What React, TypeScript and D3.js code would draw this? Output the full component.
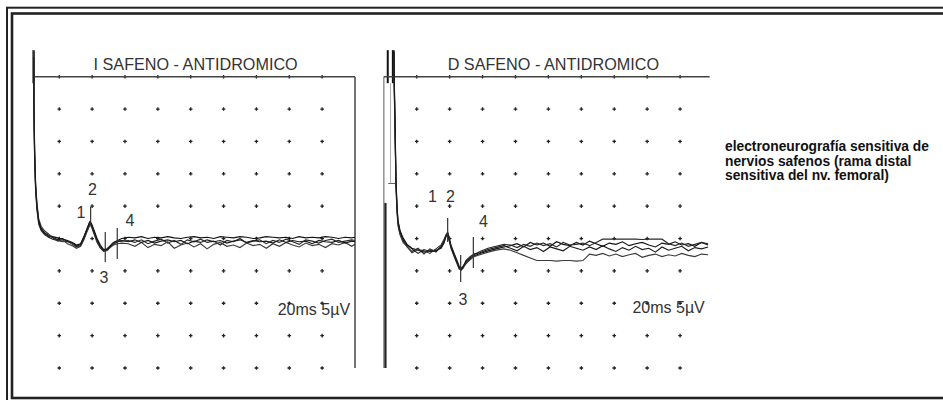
import React from "react";
import * as d3 from "d3";

// ---- panel izquierdo: I SAFENO ----
// tiempos (ms) comunes a los 4 barridos
const leftTimes = [
  0.45, 0.46, 0.5, 0.56, 0.64, 0.75, 0.9, 1.1, 1.35, 1.6, 1.9, 2.2, 2.5, 2.8, 3.05, 3.3, 3.5, 3.7, 3.85, 3.95,
  4.1, 4.3, 4.5, 4.7, 4.9, 5.1, 5.3, 5.55, 5.8,
  6.2, 6.6, 7.0, 7.4, 7.8, 8.2, 8.6, 9.0, 9.4, 9.8, 10.2, 10.6, 11.0, 11.4, 11.8, 12.2, 12.6, 13.0, 13.4, 13.8,
  14.2, 14.6, 15.0, 15.4, 15.8, 16.2, 16.6, 17.0, 17.4, 17.8, 18.2, 18.6, 19.0, 19.4, 19.8, 20.0,
];
// amplitudes (µV)
const leftSweep1 = [
  29, 20, 13, 8, 5, 2.5, 1.6, 0.9, 0.5, 0.3, 0.1, -0.1, -0.3, -0.6, -1.0, -0.8, 0.3, 1.6, 2.6, 2.4,
  1.4, 0.0, -1.0, -1.7, -1.6, -1.1, -0.6, -0.3, 0.0,
  0.2, 0.1, 0.3, 0.0, 0.2, 0.1, 0.3, 0.1, 0.0, 0.2, 0.3, 0.1, 0.2, 0.0, 0.3, 0.2, 0.1, 0.3, 0.2, 0.0,
  0.1, 0.3, 0.2, 0.1, 0.2, 0.0, 0.3, 0.1, 0.2, 0.1, 0.3, 0.2, 0.0, 0.2, 0.1, 0.2,
];
const leftSweep2 = [
  29, 19, 12, 7.4, 4.4, 2.2, 1.2, 0.6, 0.2, -0.1, -0.3, -0.5, -0.4, -0.9, -1.3, -1.1, 0.0, 1.3, 2.2, 2.1,
  1.0, -0.4, -1.4, -1.9, -1.8, -1.3, -0.9, -0.5, -0.4,
  -0.3, -0.6, -0.2, -0.8, -0.4, -0.1, -0.7, -0.3, -0.9, -0.2, -0.5, -0.1, -0.6, -0.4, -1.0, -0.3, -0.5, 0.0, -0.7, -0.4,
  -0.2, -0.8, -0.3, -0.6, -0.1, -0.5, -0.9, -0.2, -0.4, -0.7, -0.3, -0.1, -0.6, -0.4, -0.2, -0.3,
];
const leftSweep3 = [
  28.5, 21, 14, 8.6, 5.5, 3.0, 1.9, 1.2, 0.7, 0.1, -0.4, -0.2, -0.8, -1.1, -1.5, -1.2, -0.2, 1.1, 2.0, 1.9,
  0.8, -0.6, -1.5, -2.0, -1.9, -1.4, -1.0, -0.8, -0.7,
  -0.8, -1.2, -0.6, -1.4, -0.9, -1.1, -0.5, -1.5, -1.0, -0.7, -1.3, -0.8, -1.6, -0.9, -0.6, -1.2, -1.0, -1.4, -0.7, -1.1,
  -0.9, -1.5, -0.8, -1.2, -0.6, -1.0, -1.3, -0.7, -1.1, -0.9, -1.4, -0.8, -1.0, -0.6, -1.2, -0.9,
];
const leftSweep4 = [
  28, 20, 13.5, 8.2, 5.0, 2.8, 1.4, 0.8, 0.3, 0.2, -0.2, 0.0, -0.5, -0.7, -1.2, -0.9, 0.2, 1.5, 2.4, 2.2,
  1.2, -0.2, -1.2, -1.8, -1.7, -1.2, -0.7, -0.4, -0.3,
  -0.5, -0.2, -0.6, -0.3, -0.7, -0.4, -0.2, -0.5, -0.3, -0.8, -0.4, -0.6, -0.2, -0.5, -0.3, -0.7, -0.4, -0.2, -0.6, -0.3,
  -0.5, -0.4, -0.7, -0.2, -0.6, -0.3, -0.5, -0.4, -0.8, -0.3, -0.5, -0.6, -0.3, -0.7, -0.4, -0.5,
];
// marcadores: tiempo, extremo superior e inferior (µV)
const leftMarkers = [
  { t: 3.91, top: 4.87, bottom: 2.09 },
  { t: 4.8, top: 1.0, bottom: -3.63 },
  { t: 5.53, top: 1.62, bottom: -3.17 },
];
const leftLabels = [
  { text: "1", t: 3.32, v: 3.17 },
  { text: "2", t: 4.02, v: 6.72 },
  { text: "3", t: 4.72, v: -6.87 },
  { text: "4", t: 6.31, v: 1.93 },
];

// ---- panel derecho: D SAFENO ----
const rightTimes = [
  0.62, 0.64, 0.68, 0.74, 0.8, 0.86, 0.98, 1.17, 1.41, 1.71, 2.08, 2.44, 2.8, 3.17, 3.48, 3.66, 3.78, 3.88, 3.96, 4.08,
  4.26, 4.45, 4.57, 4.69, 4.81, 4.99, 5.24, 5.48, 5.84, 6.33, 6.82, 7.3,
  7.7, 8.1, 8.5, 8.9, 9.3, 9.7, 10.1, 10.5, 10.9, 11.3, 11.7, 12.1, 12.5, 12.9, 13.3, 13.7, 14.1, 14.5, 14.9, 15.3,
  15.7, 16.1, 16.5, 16.9, 17.3, 17.7, 18.1, 18.5, 18.9, 19.3, 19.7,
];
const rightSweep1 = [
  29.1, 24, 18.3, 9.0, 5.2, 2.8, 1.3, 0.1, -0.9, -1.5, -1.8, -2.1, -1.9, -1.8, -1.5, -0.7, 0.4, 0.8, 0.1, -1.2,
  -2.4, -3.6, -4.4, -4.6, -4.3, -3.6, -3.0, -2.7, -2.3, -1.9, -1.6, -1.3,
  -1.1, -0.8, -1.3, -0.6, -1.0, -0.7, -1.2, -0.5, -0.9, -1.1, -0.6, -1.0, -0.4, -0.8, -1.2, -0.7, -0.9, -0.5, -1.1, -0.8,
  -0.6, -1.0, -1.3, -0.7, -0.9, -0.5, -1.0, -0.8, -1.2, -0.6, -1.0,
];
const rightSweep2 = [
  29.0, 23, 17.5, 8.4, 4.6, 2.4, 0.9, -0.3, -1.3, -2.0, -1.5, -2.4, -1.6, -2.1, -1.2, -0.4, 0.6, 1.0, 0.3, -1.0,
  -2.2, -3.4, -4.2, -4.7, -4.4, -3.9, -3.2, -2.5, -2.0, -1.5, -1.2, -0.9,
  -1.0, -1.4, -0.9, -1.2, -0.7, -1.1, -0.8, -1.3, -0.6, -1.0, -0.9, -0.7, -1.1, -0.6, -0.1, -0.1, -0.1, -0.1, -0.1, -0.1,
  -0.15, -0.1, -0.1, -0.1, -0.8, -1.1, -0.7, -1.2, -0.9, -0.6, -0.8,
];
const rightSweep3 = [
  28.5, 22, 16.8, 8.0, 4.2, 2.0, 0.6, -0.6, -1.2, -2.2, -1.7, -1.9, -2.3, -1.6, -1.0, -0.1, 0.5, 0.6, -0.2, -1.5,
  -2.7, -3.9, -4.7, -4.9, -4.6, -3.8, -3.3, -2.8, -2.5, -2.1, -1.8, -1.6,
  -1.8, -2.2, -2.6, -3.0, -3.4, -3.4, -3.4, -3.5, -3.4, -3.4, -3.5, -3.4, -2.4, -2.6, -2.3, -2.7, -2.4, -2.8, -2.5, -2.3,
  -2.9, -2.6, -2.4, -2.8, -2.5, -2.7, -2.3, -2.6, -2.8, -2.4, -2.5,
];
const rightSweep4 = [
  28.8, 23.5, 17.9, 8.8, 5.0, 2.6, 1.1, -0.2, -1.0, -1.6, -2.3, -1.7, -2.0, -1.9, -1.3, -0.5, 0.3, 0.7, 0.0, -1.3,
  -2.5, -3.7, -4.5, -4.8, -4.5, -3.4, -2.8, -2.4, -2.2, -1.7, -1.4, -1.1,
  -1.5, -1.9, -1.2, -1.7, -1.4, -2.0, -1.3, -1.6, -1.9, -1.2, -1.5, -1.8, -1.3, -1.7, -1.1, -1.6, -2.0, -1.4, -1.8, -1.2,
  -1.7, -1.5, -2.1, -1.3, -1.8, -1.5, -1.2, -1.9, -1.4, -1.6, -1.3,
];
const rightMarkers = [
  { t: 3.88, top: 3.17, bottom: -0.54 },
  { t: 4.67, top: -2.55, bottom: -6.72 },
  { t: 5.44, top: 0.23, bottom: -4.56 },
];
const rightLabels = [
  { text: "1", t: 2.96, v: 5.64 },
  { text: "2", t: 4.05, v: 5.64 },
  { text: "3", t: 4.81, v: -10.27 },
  { text: "4", t: 6.06, v: 1.78 },
];

// rejilla: 2 ms/div, 5 µV/div
const gridTimes = [2, 4, 6, 8, 10, 12, 14, 16, 18];
const gridLevels = [25, 20, 15, 10, 5, 0, -5, -10, -15, -20];

const noteLines = [
  "electroneurografía sensitiva de",
  "nervios safenos (rama distal",
  "sensitiva del nv. femoral)",
];

const sweepColors = ["#111", "#2a2a2a", "#3a3a3a", "#1a1a1a"];
const textFont = "'Liberation Sans', Arial, sans-serif";

const y = d3.scaleLinear().domain([25, -20]).range([76.7, 368]);

type Marker = { t: number; top: number; bottom: number };
type Label = { text: string; t: number; v: number };

interface PanelProps {
  title: string;
  x: d3.ScaleLinear<number, number>;
  times: number[];
  sweeps: number[][];
  markers: Marker[];
  labels: Label[];
  scaleAt: { t: number; v: number };
  topStart: number;
  topEnd: number;
  rightBorder: boolean;
}

const Panel: React.FC<PanelProps> = ({ title, x, times, sweeps, markers, labels, scaleAt, topStart, topEnd, rightBorder }) => {
  const line = d3.line<[number, number]>()
    .x(d => x(d[0]))
    .y(d => y(d[1]));

  return (
    <g>
      {/* titulo */}
      <text x={x(10.3)} y={y(26.0)} textAnchor="middle" fill="#333"
        style={{ fontFamily: textFont, fontSize: "16.2px" }}>{title}</text>

      {/* puntos de la rejilla */}
      {gridTimes.map(t => gridLevels.map(v => (
        <path key={`${t}_${v}`}
          d={`M${x(t) - 1.8},${y(v)}h3.6M${x(t)},${y(v) - 1.8}v3.6`}
          stroke="#222" strokeWidth={1.3} />
      )))}

      {/* bordes */}
      <line x1={x(topStart)} x2={x(topEnd)} y1={y(25)} y2={y(25)} stroke="#444" strokeWidth={1.5} />
      {rightBorder && (
        <line x1={x(20)} x2={x(20)} y1={y(25)} y2={y(-20)} stroke="#444" strokeWidth={1.5} />
      )}

      {/* barridos */}
      {sweeps.map((s, i) => (
        <path key={i}
          d={line(times.map((t, j) => [t, s[j]] as [number, number]).filter(d => d[1] !== undefined)) ?? ""}
          fill="none" stroke={sweepColors[i]} strokeWidth={1.15} strokeLinejoin="miter" />
      ))}

      {/* marcadores */}
      {markers.map((m, i) => (
        <line key={i} x1={x(m.t)} x2={x(m.t)} y1={y(m.top)} y2={y(m.bottom)} stroke="#333" strokeWidth={1.2} />
      ))}
      {labels.map((l, i) => (
        <text key={i} x={x(l.t)} y={y(l.v)} textAnchor="middle" fill="#333"
          style={{ fontFamily: textFont, fontSize: "16px" }}>{l.text}</text>
      ))}

      {/* escala */}
      <text x={x(scaleAt.t)} y={y(scaleAt.v)} textAnchor="end" fill="#333"
        style={{ fontFamily: textFont, fontSize: "16px" }}>20ms 5µV</text>
    </g>
  );
};

export default function App() {
  const width = 943;
  const height = 400;

  const xLeft = d3.scaleLinear().domain([0, 20]).range([26.4, 355]);
  const xRight = d3.scaleLinear().domain([0, 20]).range([383.8, 713]);

  return (
    <svg width={width} height={height}
      style={{ position: "absolute", left: 0, top: 0, display: "block", background: "#fff" }}>
      <rect x={0} y={0} width={width} height={height} fill="#fff" />

      {/* marco doble */}
      <rect x={7} y={7.7} width={980} height={440} fill="none" stroke="#222" strokeWidth={2} />
      <rect x={12} y={13.5} width={970} height={384.5} fill="none" stroke="#222" strokeWidth={2.6} />

      {/* artefacto de estimulo, panel izquierdo */}
      <line x1={xLeft(0.43)} x2={xLeft(0.43)} y1={y(29.1)} y2={y(24)} stroke="#555" strokeWidth={2.5} />

      <Panel title="I SAFENO - ANTIDROMICO" x={xLeft} times={leftTimes}
        sweeps={[leftSweep1, leftSweep2, leftSweep3, leftSweep4]}
        markers={leftMarkers} labels={leftLabels}
        scaleAt={{ t: 19.7, v: -11.82 }} topStart={0.52} topEnd={20} rightBorder={true} />

      {/* artefacto de estimulo, panel derecho */}
      <line x1={xRight(0)} x2={xRight(0)} y1={y(25)} y2={y(-20)} stroke="#999" strokeWidth={1.6} />
      <line x1={xRight(0.1)} x2={xRight(0.1)} y1={y(5.5)} y2={y(-20)} stroke="#222" strokeWidth={2.2} />
      <line x1={xRight(0.41)} x2={xRight(0.41)} y1={y(24)} y2={y(8.5)} stroke="#aaa" strokeWidth={1} />
      <line x1={xRight(0.27)} x2={xRight(0.68)} y1={y(8.5)} y2={y(8.5)} stroke="#666" strokeWidth={1} />
      <line x1={xRight(0.24)} x2={xRight(0.24)} y1={y(29.1)} y2={y(24)} stroke="#111" strokeWidth={2} />
      <line x1={xRight(0.55)} x2={xRight(0.55)} y1={y(29.1)} y2={y(24)} stroke="#111" strokeWidth={2} />

      <Panel title="D SAFENO - ANTIDROMICO" x={xRight} times={rightTimes}
        sweeps={[rightSweep1, rightSweep2, rightSweep3, rightSweep4]}
        markers={rightMarkers} labels={rightLabels}
        scaleAt={{ t: 19.5, v: -11.5 }} topStart={0} topEnd={19.8} rightBorder={false} />

      {/* nota */}
      {noteLines.map((l, i) => (
        <text key={i} x={725} y={151 + i * 14.5} fill="#111"
          style={{ fontFamily: textFont, fontSize: "13.8px", fontWeight: "bold" }}>{l}</text>
      ))}
    </svg>
  );
}
